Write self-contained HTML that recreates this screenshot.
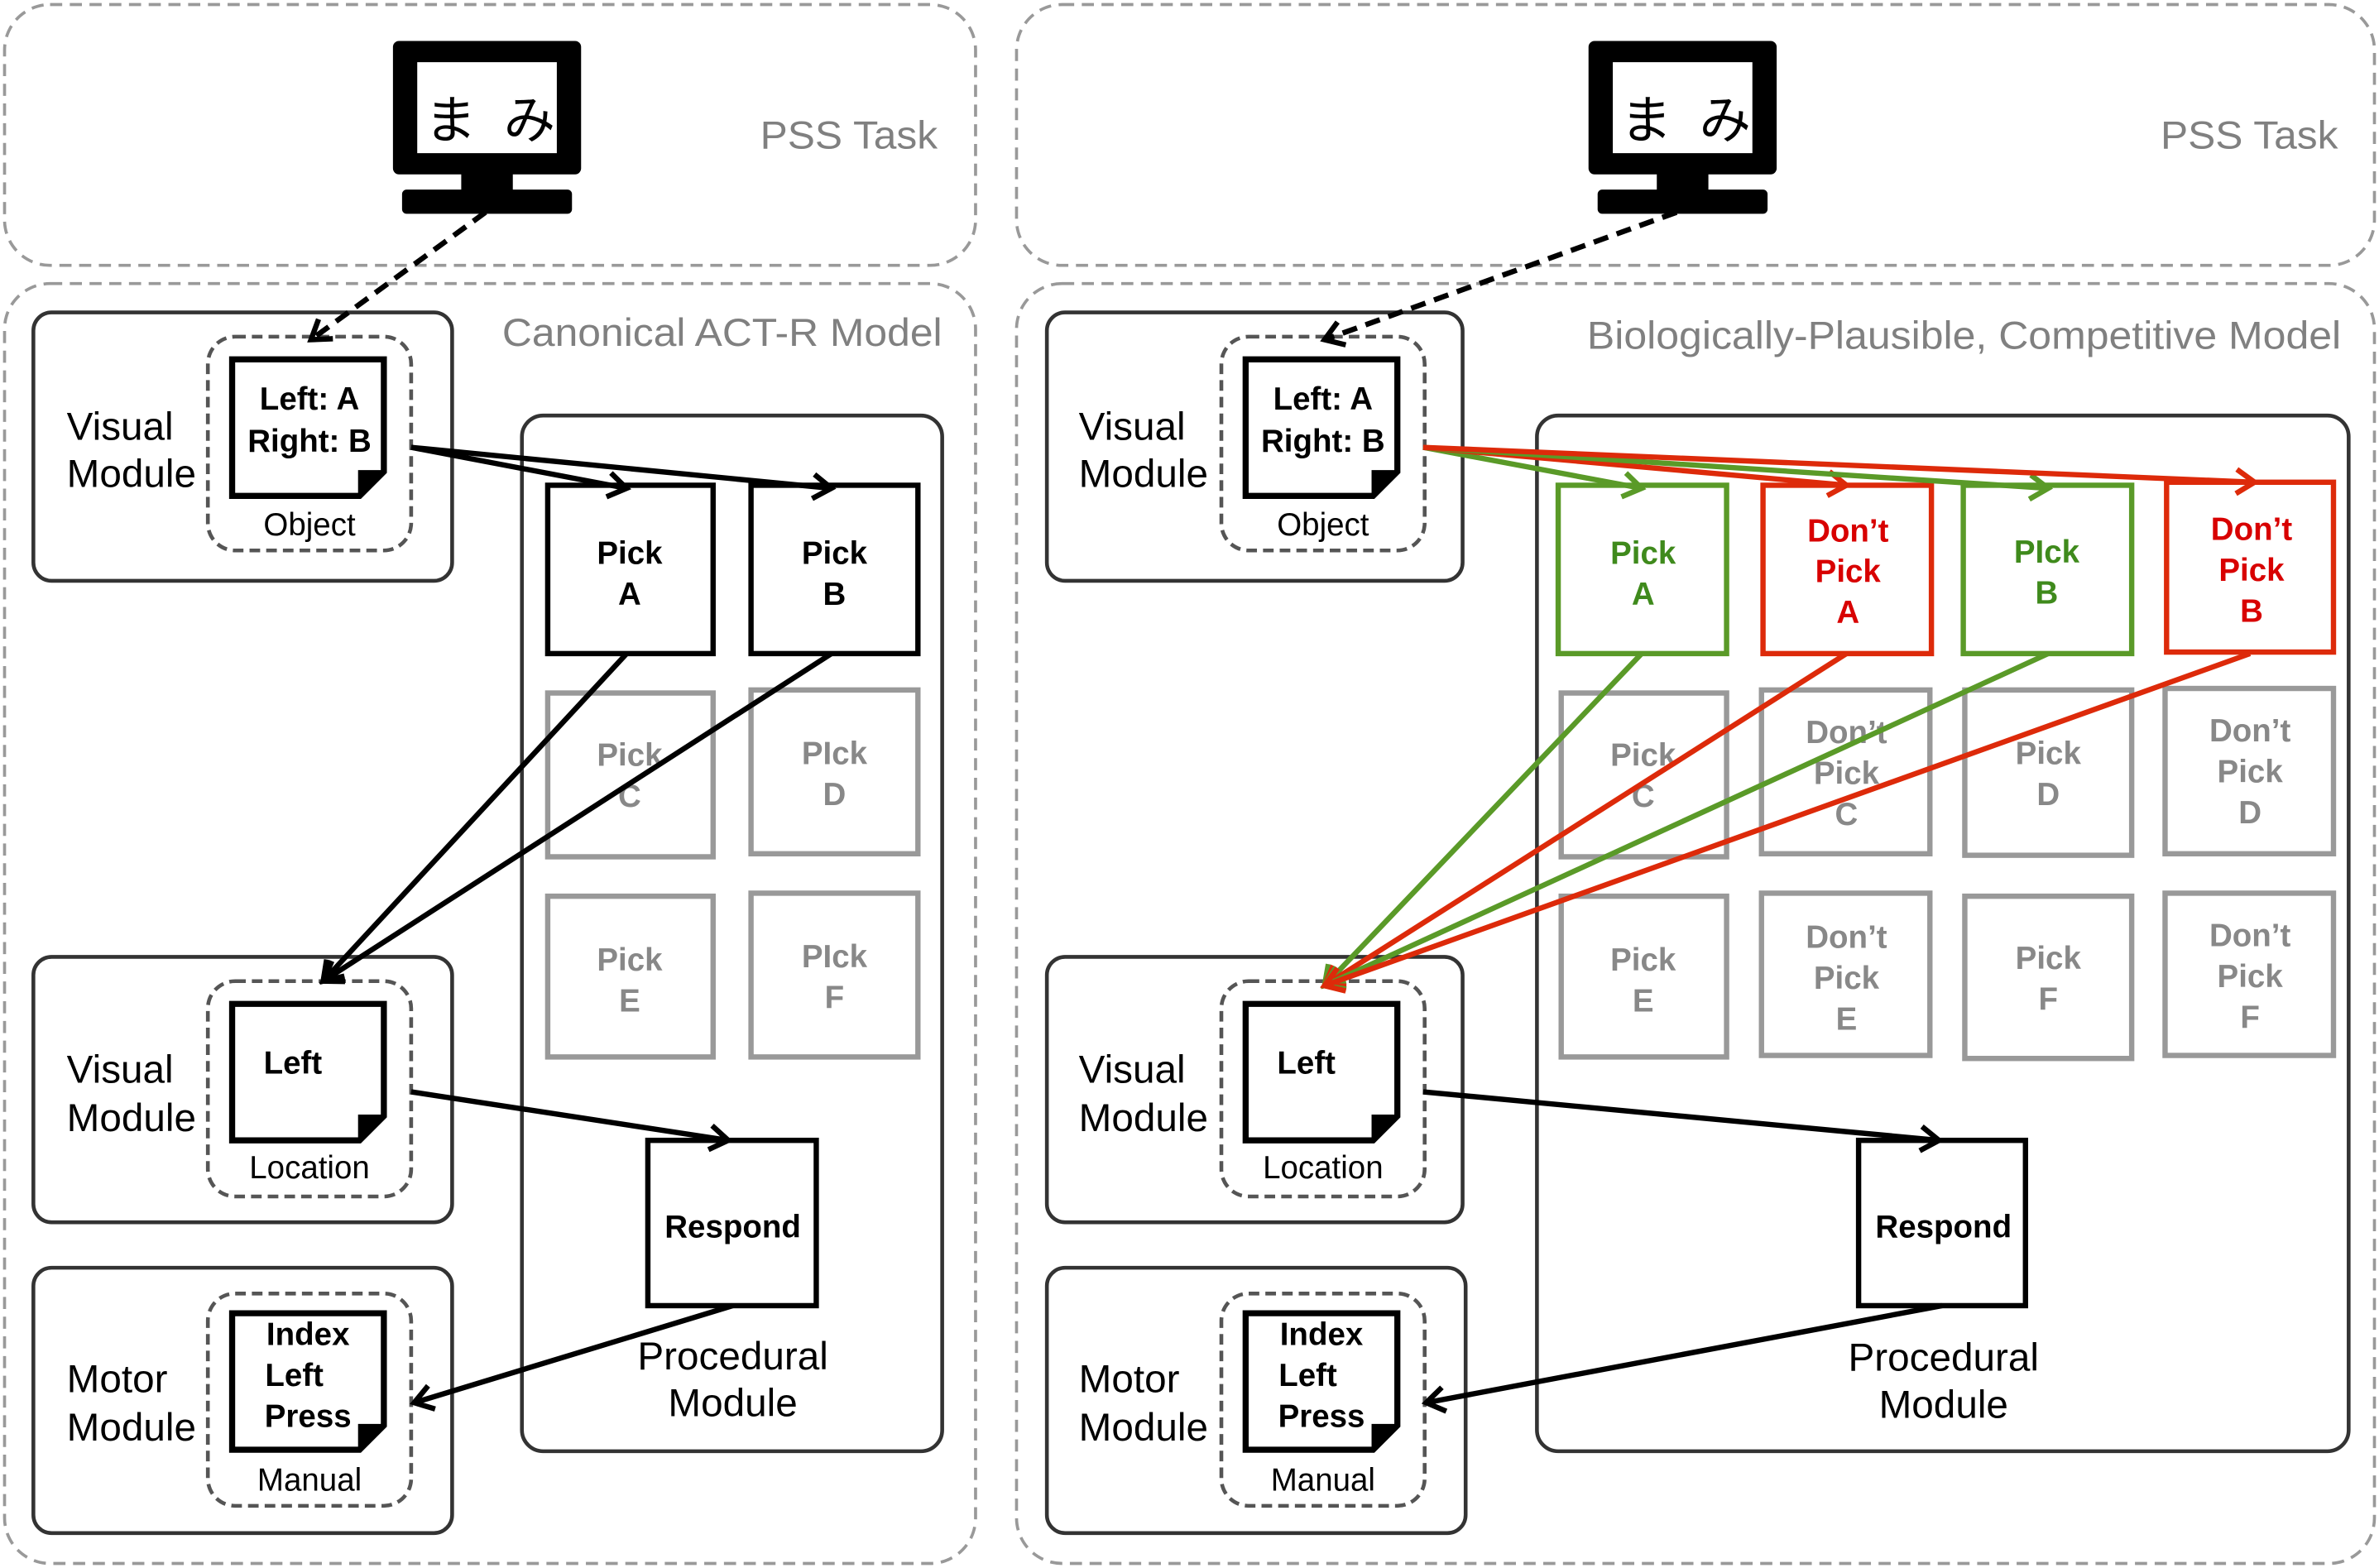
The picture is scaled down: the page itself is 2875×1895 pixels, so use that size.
<!DOCTYPE html>
<html><head><meta charset="utf-8"><style>
html,body{margin:0;padding:0;background:#fff;}
svg{display:block;}
text{font-family:"Liberation Sans","Noto Sans CJK JP",sans-serif;}
.b{font-weight:bold;font-size:21px;text-anchor:middle;}
.m{font-size:26px;}
.s{font-size:21px;text-anchor:middle;}
.g{font-size:26px;fill:#808080;text-anchor:start;}
</style></head><body>
<svg width="2875" height="1895" viewBox="0 0 1568 1034" preserveAspectRatio="none" xmlns="http://www.w3.org/2000/svg">
<defs>
<marker id="ak" markerUnits="userSpaceOnUse" markerWidth="24" markerHeight="24" refX="18" refY="10" orient="auto" viewBox="0 0 24 20"><path d="M6,2 L18,10 L6,18" fill="none" stroke="#000" stroke-width="3.5"/></marker>
<marker id="ag" markerUnits="userSpaceOnUse" markerWidth="24" markerHeight="24" refX="18" refY="10" orient="auto" viewBox="0 0 24 20"><path d="M6,2 L18,10 L6,18" fill="none" stroke="#5a9a28" stroke-width="3.5"/></marker>
<marker id="ar" markerUnits="userSpaceOnUse" markerWidth="24" markerHeight="24" refX="18" refY="10" orient="auto" viewBox="0 0 24 20"><path d="M6,2 L18,10 L6,18" fill="none" stroke="#dd2a0a" stroke-width="3.5"/></marker>
<g id="doc"><path d="M0,0 H100 V74 L84,90 H0 Z" fill="#fff" stroke="#000" stroke-width="4"/><path d="M100,74 L84,74 L84,90" fill="#000" stroke="#000" stroke-width="2"/></g>
<g id="mon"><rect x="0" y="0" width="124" height="88" rx="4" fill="#000"/><rect x="16" y="14" width="92" height="60" fill="#fff"/><rect x="45" y="86" width="34" height="14" fill="#000"/><rect x="6" y="98" width="112" height="16" rx="3" fill="#000"/>
<text x="38" y="64" font-size="34" text-anchor="middle" style="font-family:'Noto Sans CJK JP',sans-serif">ま</text><text x="90" y="64" font-size="34" text-anchor="middle" style="font-family:'Noto Sans CJK JP',sans-serif">み</text></g>
</defs>

<!-- LEFT -->
<g>
<rect x="3" y="3" width="640" height="172" rx="30" fill="none" stroke="#999" stroke-width="2" stroke-dasharray="8,5"/>
<rect x="3" y="187" width="640" height="844" rx="30" fill="none" stroke="#999" stroke-width="2" stroke-dasharray="8,5"/>
<use href="#mon" x="259" y="27"/>
<text class="g" x="501" y="98" textLength="117" lengthAdjust="spacingAndGlyphs">PSS Task</text>
<text class="g" x="331" y="228" textLength="290" lengthAdjust="spacingAndGlyphs">Canonical ACT-R Model</text>

<rect x="22" y="206" width="276" height="177" rx="12" fill="none" stroke="#333" stroke-width="2.5"/>
<rect x="137" y="222" width="134" height="141" rx="18" fill="none" stroke="#555" stroke-width="2.5" stroke-dasharray="7,4"/>
<use href="#doc" x="153" y="237"/>
<text class="b" x="204" y="270">Left: A</text><text class="b" x="204" y="298">Right: B</text>
<text class="s" x="204" y="353">Object</text>
<text class="m" x="44" y="290">Visual</text><text class="m" x="44" y="321">Module</text>

<rect x="344" y="274" width="277" height="683" rx="14" fill="none" stroke="#333" stroke-width="2.5"/>
<rect x="361" y="320" width="109" height="111" fill="#fff" stroke="#000" stroke-width="3.5"/>
<rect x="495" y="320" width="110" height="111" fill="#fff" stroke="#000" stroke-width="3.5"/>
<text class="b" x="415" y="372">Pick</text><text class="b" x="415" y="399">A</text>
<text class="b" x="550" y="372">Pick</text><text class="b" x="550" y="399">B</text>
<g fill="#fff" stroke="#999" stroke-width="3.5">
<rect x="361" y="457" width="109" height="108"/><rect x="495" y="455" width="110" height="108"/>
<rect x="361" y="591" width="109" height="106"/><rect x="495" y="589" width="110" height="108"/></g>
<g fill="#888"><text class="b" x="415" y="505">Pick</text><text class="b" x="415" y="532">C</text>
<text class="b" x="550" y="504">PIck</text><text class="b" x="550" y="531">D</text>
<text class="b" x="415" y="640">Pick</text><text class="b" x="415" y="667">E</text>
<text class="b" x="550" y="638">PIck</text><text class="b" x="550" y="665">F</text></g>
<rect x="427" y="752" width="111" height="109" fill="#fff" stroke="#000" stroke-width="3.5"/>
<text class="b" x="483" y="816">Respond</text>
<text class="m" x="483" y="903" text-anchor="middle">Procedural</text><text class="m" x="483" y="934" text-anchor="middle">Module</text>

<rect x="22" y="631" width="276" height="175" rx="12" fill="none" stroke="#333" stroke-width="2.5"/>
<rect x="137" y="647" width="134" height="142" rx="18" fill="none" stroke="#555" stroke-width="2.5" stroke-dasharray="7,4"/>
<use href="#doc" x="153" y="662"/>
<text class="b" x="193" y="708">Left</text><text class="s" x="204" y="777">Location</text>
<text class="m" x="44" y="714">Visual</text><text class="m" x="44" y="746">Module</text>

<rect x="22" y="836" width="276" height="175" rx="12" fill="none" stroke="#333" stroke-width="2.5"/>
<rect x="137" y="853" width="134" height="140" rx="18" fill="none" stroke="#555" stroke-width="2.5" stroke-dasharray="7,4"/>
<use href="#doc" x="153" y="866"/>
<text class="b" x="203" y="887">Index</text><text class="b" x="194" y="914">Left</text><text class="b" x="203" y="941">Press</text>
<text class="s" x="204" y="983">Manual</text>
<text class="m" x="44" y="918">Motor</text><text class="m" x="44" y="950">Module</text>

<g fill="none" stroke="#000" stroke-width="3.5">
<line x1="320" y1="140" x2="205" y2="224" stroke-dasharray="10,6" marker-end="url(#ak)"/>
<line x1="271" y1="295" x2="413" y2="322" marker-end="url(#ak)"/>
<line x1="271" y1="295" x2="548" y2="322" marker-end="url(#ak)"/>
<line x1="413" y1="431" x2="213" y2="647" marker-end="url(#ak)"/>
<line x1="548" y1="431" x2="213" y2="647" marker-end="url(#ak)"/>
<line x1="271" y1="720" x2="480" y2="752" marker-end="url(#ak)"/>
<line x1="483" y1="861" x2="273" y2="925" marker-end="url(#ak)"/>
</g>
</g>

<!-- RIGHT -->
<g>
<rect x="670" y="3" width="895" height="172" rx="30" fill="none" stroke="#999" stroke-width="2" stroke-dasharray="8,5"/>
<rect x="670" y="187" width="895" height="844" rx="30" fill="none" stroke="#999" stroke-width="2" stroke-dasharray="8,5"/>
<use href="#mon" x="1047" y="27"/>
<text class="g" x="1424" y="98" textLength="117" lengthAdjust="spacingAndGlyphs">PSS Task</text>
<text class="g" x="1046" y="230" textLength="497" lengthAdjust="spacingAndGlyphs">Biologically-Plausible, Competitive Model</text>

<rect x="690" y="206" width="274" height="177" rx="12" fill="none" stroke="#333" stroke-width="2.5"/>
<rect x="805" y="222" width="134" height="141" rx="18" fill="none" stroke="#555" stroke-width="2.5" stroke-dasharray="7,4"/>
<use href="#doc" x="821" y="237"/>
<text class="b" x="872" y="270">Left: A</text><text class="b" x="872" y="298">Right: B</text>
<text class="s" x="872" y="353">Object</text>
<text class="m" x="711" y="290">Visual</text><text class="m" x="711" y="321">Module</text>

<rect x="1013" y="274" width="535" height="683" rx="14" fill="none" stroke="#333" stroke-width="2.5"/>
<g fill="#fff" stroke-width="3.5">
<rect x="1027" y="320" width="111" height="111" stroke="#5a9a28"/>
<rect x="1162" y="320" width="111" height="111" stroke="#dd2a0a"/>
<rect x="1294" y="320" width="111" height="111" stroke="#5a9a28"/>
<rect x="1428" y="318" width="110" height="112" stroke="#dd2a0a"/></g>
<g fill="#3f8a1c"><text class="b" x="1083" y="372">Pick</text><text class="b" x="1083" y="399">A</text>
<text class="b" x="1349" y="371">PIck</text><text class="b" x="1349" y="398">B</text></g>
<g fill="#d80000"><text class="b" x="1218" y="357">Don’t</text><text class="b" x="1218" y="384">Pick</text><text class="b" x="1218" y="411">A</text>
<text class="b" x="1484" y="356">Don’t</text><text class="b" x="1484" y="383">Pick</text><text class="b" x="1484" y="410">B</text></g>
<g fill="#fff" stroke="#999" stroke-width="3.5">
<rect x="1029" y="457" width="109" height="108"/><rect x="1161" y="455" width="111" height="108"/>
<rect x="1295" y="455" width="110" height="109"/><rect x="1427" y="454" width="111" height="109"/>
<rect x="1029" y="591" width="109" height="106"/><rect x="1161" y="589" width="111" height="107"/>
<rect x="1295" y="591" width="110" height="107"/><rect x="1427" y="589" width="111" height="107"/></g>
<g fill="#888">
<text class="b" x="1083" y="505">Pick</text><text class="b" x="1083" y="532">C</text>
<text class="b" x="1217" y="490">Don’t</text><text class="b" x="1217" y="517">Pick</text><text class="b" x="1217" y="544">C</text>
<text class="b" x="1350" y="504">Pick</text><text class="b" x="1350" y="531">D</text>
<text class="b" x="1483" y="489">Don’t</text><text class="b" x="1483" y="516">Pick</text><text class="b" x="1483" y="543">D</text>
<text class="b" x="1083" y="640">Pick</text><text class="b" x="1083" y="667">E</text>
<text class="b" x="1217" y="625">Don’t</text><text class="b" x="1217" y="652">Pick</text><text class="b" x="1217" y="679">E</text>
<text class="b" x="1350" y="639">Pick</text><text class="b" x="1350" y="666">F</text>
<text class="b" x="1483" y="624">Don’t</text><text class="b" x="1483" y="651">Pick</text><text class="b" x="1483" y="678">F</text></g>

<rect x="1225" y="752" width="110" height="109" fill="#fff" stroke="#000" stroke-width="3.5"/>
<text class="b" x="1281" y="816">Respond</text>
<text class="m" x="1281" y="904" text-anchor="middle">Procedural</text><text class="m" x="1281" y="935" text-anchor="middle">Module</text>

<rect x="690" y="631" width="274" height="175" rx="12" fill="none" stroke="#333" stroke-width="2.5"/>
<rect x="805" y="647" width="134" height="142" rx="18" fill="none" stroke="#555" stroke-width="2.5" stroke-dasharray="7,4"/>
<use href="#doc" x="821" y="662"/>
<text class="b" x="861" y="708">Left</text><text class="s" x="872" y="777">Location</text>
<text class="m" x="711" y="714">Visual</text><text class="m" x="711" y="746">Module</text>

<rect x="690" y="836" width="276" height="175" rx="12" fill="none" stroke="#333" stroke-width="2.5"/>
<rect x="805" y="853" width="134" height="140" rx="18" fill="none" stroke="#555" stroke-width="2.5" stroke-dasharray="7,4"/>
<use href="#doc" x="821" y="866"/>
<text class="b" x="871" y="887">Index</text><text class="b" x="862" y="914">Left</text><text class="b" x="871" y="941">Press</text>
<text class="s" x="872" y="983">Manual</text>
<text class="m" x="711" y="918">Motor</text><text class="m" x="711" y="950">Module</text>

<g fill="none" stroke-width="3.5">
<line x1="1105" y1="140" x2="873" y2="224" stroke="#000" stroke-dasharray="10,6" marker-end="url(#ak)"/>
<line x1="938" y1="295" x2="1082" y2="322" stroke="#5a9a28" marker-end="url(#ag)"/>
<line x1="938" y1="295" x2="1217" y2="320" stroke="#dd2a0a" marker-end="url(#ar)"/>
<line x1="938" y1="295" x2="1350" y2="322" stroke="#5a9a28" marker-end="url(#ag)"/>
<line x1="938" y1="295" x2="1486" y2="318" stroke="#dd2a0a" marker-end="url(#ar)"/>
<line x1="1082" y1="431" x2="873" y2="650" stroke="#5a9a28" marker-end="url(#ag)"/>
<line x1="1217" y1="431" x2="873" y2="650" stroke="#dd2a0a" marker-end="url(#ar)"/>
<line x1="1350" y1="431" x2="873" y2="650" stroke="#5a9a28" marker-end="url(#ag)"/>
<line x1="1483" y1="431" x2="873" y2="650" stroke="#dd2a0a" marker-end="url(#ar)"/>
<line x1="938" y1="720" x2="1278" y2="752" stroke="#000" marker-end="url(#ak)"/>
<line x1="1280" y1="861" x2="940" y2="925" stroke="#000" marker-end="url(#ak)"/>
</g>
</g>
</svg>
</body></html>
